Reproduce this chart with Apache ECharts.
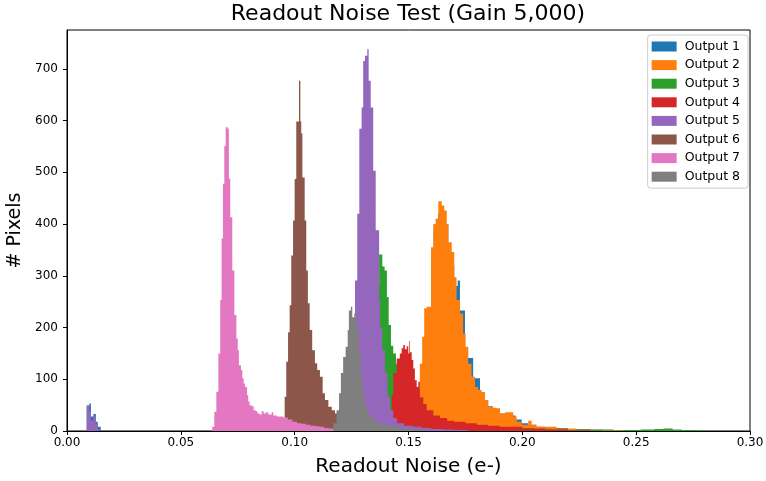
<!DOCTYPE html>
<html>
<head>
<meta charset="utf-8">
<script src="https://cdn.jsdelivr.net/npm/echarts@6/dist/echarts.min.js"></script>
<style>
  html, body { margin: 0; padding: 0; background: #fff; }
  #chart { width: 766px; height: 481px; }
</style>
</head>
<body>
<div id="chart"></div>
<script>
// histogram outlines: [left bin edge, pixel count]
const seriesNames = ["Output 1", "Output 2", "Output 3", "Output 4", "Output 5", "Output 6", "Output 7", "Output 8"]
const colors = ["#1f77b4", "#ff7f0e", "#2ca02c", "#d62728", "#9467bd", "#8c564b", "#e377c2", "#7f7f7f"]

const out1 = [
  [0.00865, 48], [0.0098, 53], [0.0105, 28], [0.0116, 33], [0.0127, 18], [0.0135, 8], [0.0148, 0],
  [0.152, 10], [0.155, 90], [0.157, 180], [0.159, 230], [0.160, 330], [0.161, 390], [0.163, 420],
  [0.1657, 400], [0.1675, 340], [0.1690, 320], [0.1701, 280], [0.1716, 291], [0.1726, 233],
  [0.1748, 160], [0.1762, 141], [0.1784, 102], [0.1814, 75], [0.1836, 60], [0.1850, 48],
  [0.187, 40], [0.190, 34], [0.193, 30], [0.197, 22], [0.1997, 15], [0.2026, 12], [0.206, 8],
  [0.21, 6], [0.22, 4], [0.23, 3], [0.24, 2], [0.26, 1], [0.27, 0]
]
const out2 = [
  [0.150, 10], [0.152, 30], [0.1543, 80], [0.1550, 130], [0.1560, 182], [0.1569, 237], [0.1580, 240],
  [0.1599, 355], [0.1609, 400], [0.1619, 410], [0.1631, 444], [0.1646, 436], [0.1657, 426],
  [0.1668, 400], [0.1675, 365], [0.1690, 346], [0.1701, 297], [0.1711, 253], [0.1726, 227],
  [0.1740, 188], [0.1751, 163], [0.1762, 130], [0.1777, 105], [0.1792, 85], [0.1806, 79],
  [0.1821, 75], [0.1836, 60], [0.1850, 47], [0.1872, 45], [0.1887, 44], [0.1902, 34],
  [0.1924, 36], [0.1960, 28], [0.1975, 18], [0.1997, 12], [0.2026, 20], [0.2041, 12],
  [0.2063, 8], [0.2151, 5], [0.2238, 3], [0.2355, 2], [0.2473, 1], [0.250, 0],
  [0.258, 2], [0.262, 0], [0.268, 2], [0.272, 0]
]
const out3 = [
  [0.125, 10], [0.128, 60], [0.130, 130], [0.132, 200], [0.134, 280], [0.1371, 341], [0.1385, 318],
  [0.1395, 310], [0.1405, 259], [0.1413, 205], [0.1423, 165], [0.1433, 150], [0.1445, 130],
  [0.1455, 100], [0.147, 75], [0.149, 55], [0.151, 40], [0.154, 28], [0.157, 20], [0.160, 14],
  [0.165, 10], [0.170, 8], [0.175, 6], [0.180, 5], [0.190, 4], [0.200, 6], [0.205, 4], [0.212, 3],
  [0.220, 2], [0.235, 1], [0.245, 2], [0.252, 3], [0.258, 4], [0.262, 5], [0.266, 3], [0.270, 2],
  [0.275, 1], [0.280, 0]
]
const out4 = [
  [0.138, 5], [0.140, 20], [0.1426, 70], [0.1433, 112], [0.1448, 140], [0.1462, 150], [0.1470, 160],
  [0.1477, 166], [0.1484, 158], [0.1492, 164], [0.1499, 150], [0.1503, 174], [0.1506, 152],
  [0.1514, 137], [0.1521, 121], [0.1528, 98], [0.1536, 85], [0.1543, 95], [0.1550, 65],
  [0.1565, 52], [0.1580, 40], [0.1609, 30], [0.1638, 25], [0.167, 20], [0.170, 18], [0.175, 15],
  [0.180, 12], [0.185, 10], [0.190, 8], [0.200, 5], [0.210, 3], [0.220, 1], [0.230, 0]
]
const out5 = [
  [0.00865, 50], [0.0098, 36], [0.0105, 20], [0.0116, 30], [0.0127, 14], [0.0135, 4], [0.0142, 0],
  [0.120, 10], [0.122, 40], [0.124, 100], [0.1255, 170], [0.1265, 291], [0.1275, 420],
  [0.1284, 584], [0.1294, 625], [0.1301, 715], [0.1309, 725], [0.1319, 738], [0.1325, 677],
  [0.1334, 625], [0.1345, 503], [0.1356, 388], [0.1371, 253], [0.1375, 200], [0.1385, 156],
  [0.1397, 112], [0.1408, 66], [0.1419, 40], [0.1433, 25], [0.145, 15], [0.148, 10], [0.152, 8],
  [0.156, 6], [0.160, 4], [0.165, 3], [0.170, 2], [0.176, 0]
]
const out6 = [
  [0.0949, 24], [0.0956, 66], [0.0963, 134], [0.0971, 191], [0.0978, 243], [0.0985, 339],
  [0.0993, 407], [0.1000, 487], [0.1007, 598], [0.1019, 677], [0.1025, 598], [0.1029, 575],
  [0.1034, 490], [0.1044, 407], [0.1051, 310], [0.1058, 247], [0.1066, 195], [0.1077, 156],
  [0.1089, 131], [0.1099, 118], [0.1111, 105], [0.1123, 73], [0.1133, 60], [0.1148, 47],
  [0.1163, 40], [0.1177, 34], [0.1192, 20], [0.121, 10], [0.123, 0]
]
const out7 = [
  [0.0638, 8], [0.0647, 37], [0.0656, 76], [0.0665, 150], [0.0673, 253], [0.0679, 372],
  [0.0685, 478], [0.0691, 551], [0.0697, 587], [0.0706, 584], [0.0711, 488], [0.0717, 413],
  [0.0726, 310], [0.0735, 224], [0.0744, 179], [0.0750, 156], [0.0755, 127], [0.0764, 118],
  [0.0770, 102], [0.0776, 92], [0.0782, 85], [0.0791, 69], [0.0796, 57], [0.0802, 50],
  [0.0811, 48], [0.0820, 40], [0.0829, 38], [0.0837, 34], [0.0846, 32], [0.0855, 38],
  [0.0864, 34], [0.0873, 36], [0.0884, 32], [0.0899, 36], [0.0906, 30], [0.0921, 28],
  [0.095, 26], [0.097, 22], [0.099, 18], [0.101, 15], [0.103, 14], [0.105, 12], [0.107, 10],
  [0.109, 9], [0.111, 8], [0.113, 6], [0.115, 5], [0.117, 3], [0.120, 2], [0.124, 0]
]
const out8 = [
  [0.1170, 15], [0.1184, 40], [0.1195, 73], [0.1203, 112], [0.1213, 143], [0.1224, 163],
  [0.1233, 195], [0.1238, 233], [0.1247, 240], [0.1253, 220], [0.1262, 227], [0.1272, 200],
  [0.1282, 150], [0.1291, 100], [0.1300, 65], [0.1310, 45], [0.1322, 32], [0.1335, 25],
  [0.135, 18], [0.137, 14], [0.140, 10], [0.143, 8], [0.147, 5], [0.152, 3], [0.158, 0]
]
const outputs = [out1, out2, out3, out4, out5, out6, out7, out8]

const xTicks = [0, 0.05, 0.1, 0.15, 0.2, 0.25, 0.3]
const yTicks = [0, 100, 200, 300, 400, 500, 600, 700]

const chart = echarts.init(document.getElementById("chart"))

const axisText = { color: "#000", fontSize: 12, fontFamily: "DejaVu Sans" }

// one filled step outline per output, built from the bin edges via the axis scales
const stepRenderer = (hist, color) => (params, api) => {
  const pts = [api.coord([hist[0][0], 0])]
  for (let k = 0; k < hist.length; k++) {
    const x0 = hist[k][0]
    const c = hist[k][1]
    const x1 = k + 1 < hist.length ? hist[k + 1][0] : x0
    pts.push(api.coord([x0, c]))
    pts.push(api.coord([x1, c]))
  }
  pts.push(api.coord([hist[hist.length - 1][0], 0]))
  return {
    type: "polygon",
    shape: { points: pts },
    style: { fill: color, stroke: null },
  }
}

const option = {
  animation: false,
  backgroundColor: "#fff",
  title: {
    text: "Readout Noise Test (Gain 5,000)",
    left: 408,
    textAlign: "center",
    top: 3,
    padding: 0,
    textStyle: { color: "#000", fontSize: 22, fontWeight: "normal", fontFamily: "DejaVu Sans" },
  },
  legend: {
    data: seriesNames,
    orient: "vertical",
    right: 18,
    top: 35,
    icon: "rect",
    itemWidth: 25,
    itemHeight: 10,
    itemGap: 5.6,
    padding: [5, 8, 5, 4],
    borderColor: "#ccc",
    borderWidth: 1,
    borderRadius: 3,
    backgroundColor: "#fff",
    textStyle: { color: "#000", fontSize: 12.5, fontFamily: "DejaVu Sans", padding: [0, 0, 0, 3] },
  },
  grid: {
    left: 67,
    right: 16,
    top: 30,
    bottom: 50,
    outerBoundsMode: "none",
    containLabel: false,
    show: true,
    borderColor: "#000",
    borderWidth: 1,
    backgroundColor: "transparent",
  },
  xAxis: {
    type: "value",
    min: 0,
    max: 0.3,
    interval: 0.05,
    name: "Readout Noise (e-)",
    nameLocation: "middle",
    nameGap: 26,
    nameTextStyle: { color: "#000", fontSize: 20, fontFamily: "DejaVu Sans" },
    axisLine: { lineStyle: { color: "#000", width: 1 } },
    axisTick: { inside: false, length: 4, lineStyle: { color: "#000" }, customValues: xTicks },
    axisLabel: { ...axisText, margin: 6, customValues: xTicks, formatter: (v) => v.toFixed(2) },
    splitLine: { show: false },
  },
  yAxis: {
    type: "value",
    min: 0,
    max: 775,
    name: "# Pixels",
    nameLocation: "middle",
    nameGap: 42,
    nameTextStyle: { color: "#000", fontSize: 19, fontFamily: "DejaVu Sans" },
    axisLine: { show: true, lineStyle: { color: "#000", width: 1 } },
    axisTick: { show: true, inside: false, length: 4, lineStyle: { color: "#000" }, customValues: yTicks },
    axisLabel: { ...axisText, margin: 9, customValues: yTicks },
    splitLine: { show: false },
  },
  series: outputs.map((d, i) => ({
    name: seriesNames[i],
    type: "custom",
    coordinateSystem: "cartesian2d",
    data: [[d[0][0], 0]],
    renderItem: stepRenderer(d, colors[i]),
    itemStyle: { color: colors[i] },
    clip: true,
    z: 2 + i * 0.01,
    emphasis: { disabled: true },
    silent: true,
  })),
}

chart.setOption(option)
</script>
</body>
</html>
